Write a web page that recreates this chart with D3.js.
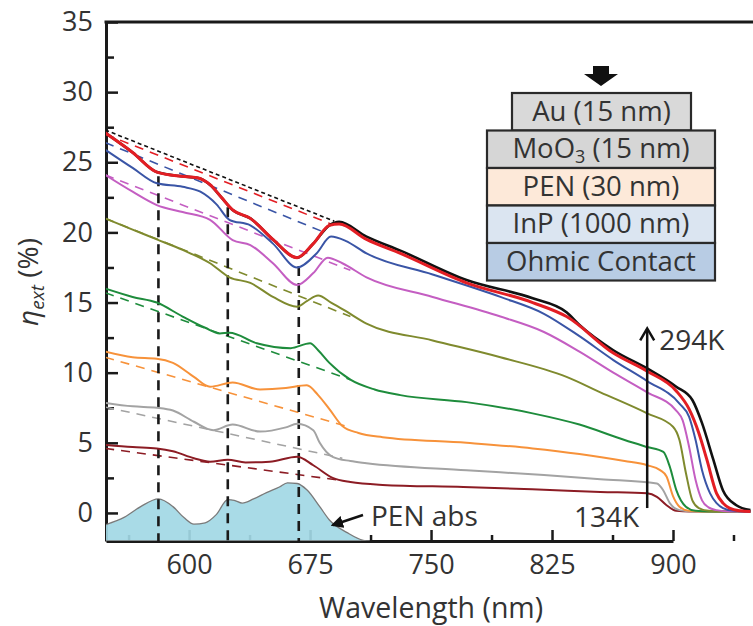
<!DOCTYPE html>
<html lang="en">
<head>
  <meta charset="UTF-8">
  <title>EQE vs wavelength</title>
  <style>
    body{margin:0; background:#fff;}
    svg{display:block; font-family:"Open Sans", sans-serif;}
  </style>
</head>
<body>
<div id="chart"></div>
<script src="https://d3js.org/d3.v7.min.js"></script>
<script>
// DATA (wavelength nm, eta_ext %)
const xTicks = [600, 675, 750, 825, 900];
const xMinor = [562.5, 637.5, 712.5, 787.5, 862.5, 937.5];
const yTicks = [0, 5, 10, 15, 20, 25, 30, 35];
const yMinor = [2.5, 7.5, 12.5, 17.5, 22.5, 27.5, 32.5];

// PEN absorption peaks marked by vertical dashed lines [wl, top]
const peakLines = [[581, 24.0], [624, 21.8], [668, 17.6]];

const penAbs = [[548,-0.85],[560,-0.3],[570,0.45],[581,1.0],[590,0.45],[597,-0.35],[603,-0.8],[610,-0.7],
  [617,-0.1],[624,0.95],[628,0.9],[633,0.7],[640,1.0],[648,1.45],[656,1.85],[661,2.15],[667,2.1],[673,1.65],
  [681,0.45],[687,-0.5],[698,-1.4],[708,-1.95],[712,-2.0]];

const k134 = [[548,4.85],[565,4.7],[580,4.6],[590,4.4],[603,3.9],[613,3.65],[624,3.8],[635,3.6],[650,3.65],
  [667,4.0],[677,3.4],[689,2.5],[700,2.2],[720,2.0],[770,1.85],[820,1.65],[855,1.5],[884,1.4],[890,1.15],
  [896,0.55],[902,0.15],[910,0.1],[948,0.1]];
const k154 = [[548,7.85],[565,7.6],[580,7.5],[590,7.3],[603,6.5],[615,5.9],[627,6.3],[644,5.8],[660,6.1],
  [667,6.35],[677,5.9],[681,5.0],[689,4.0],[700,3.7],[710,3.55],[772,3.05],[820,2.7],[855,2.4],[890,2.1],
  [894,1.6],[898,0.7],[904,0.2],[912,0.1],[948,0.1]];
const k174 = [[548,11.5],[565,11.1],[580,11.0],[590,10.7],[603,9.7],[613,9.0],[627,9.3],[644,8.8],[660,8.9],
  [673,9.1],[680,8.4],[687,7.4],[695,6.2],[705,5.7],[720,5.4],[772,5.0],[813,4.6],[842,4.2],[870,3.7],
  [884,3.4],[892,3.05],[896,2.6],[900,1.2],[904,0.45],[910,0.15],[918,0.1],[948,0.1]];
const k194 = [[548,16.0],[565,15.4],[580,15.0],[596,14.0],[610,13.2],[619,12.8],[625,12.85],[642,12.1],
  [663,11.75],[675,12.1],[680,11.6],[687,10.7],[700,9.5],[715,8.8],[731,8.4],[772,7.9],[813,7.1],[842,6.3],
  [870,5.2],[884,4.7],[894,4.35],[898,3.3],[902,1.65],[908,0.45],[914,0.15],[922,0.1],[948,0.1]];
const k214 = [[548,21.0],[565,20.2],[580,19.5],[596,18.75],[613,17.8],[625,16.8],[638,16.4],[652,15.4],
  [667,14.7],[673,15.1],[680,15.5],[688,15.0],[697,14.4],[710,13.5],[751,12.3],[793,11.1],[834,9.7],
  [855,8.6],[884,7.1],[900,6.15],[904,5.2],[908,2.85],[912,0.9],[916,0.35],[922,0.15],[930,0.1],[948,0.1]];
const k234 = [[548,24.1],[565,22.9],[580,21.95],[596,21.45],[613,20.9],[627,19.45],[638,19.1],[652,17.8],
  [667,16.25],[677,17.1],[686,18.2],[695,17.8],[710,16.8],[751,15.4],[793,14.0],[820,12.9],[842,11.5],
  [863,10.0],[884,8.6],[902,7.3],[906,6.6],[910,4.7],[914,2.35],[918,0.9],[922,0.4],[927,0.2],[935,0.1],[948,0.1]];
const k254 = [[548,25.9],[565,24.6],[580,23.5],[596,23.25],[607,22.9],[617,22.0],[625,20.9],[638,20.5],
  [652,19.2],[667,17.5],[679,18.5],[688,19.7],[697,19.4],[710,18.5],[751,17.0],[793,15.4],[820,14.2],
  [842,12.6],[863,10.9],[884,9.4],[904,7.8],[910,6.85],[914,5.2],[918,3.05],[923,1.4],[927,0.7],[931,0.35],
  [938,0.15],[948,0.1]];
const k274 = [[548,27.1],[565,25.7],[580,24.3],[595,24.0],[605,23.9],[613,23.4],[620,22.5],[627,21.6],
  [638,21.0],[652,19.5],[667,18.2],[677,19.2],[687,20.5],[693,20.6],[710,19.5],[731,18.5],[772,16.4],
  [813,15.0],[834,14.0],[863,11.4],[884,10.1],[902,8.7],[910,7.4],[916,5.7],[921,3.8],[927,1.4],[931,0.7],
  [935,0.35],[942,0.15],[948,0.1]];
const k294 = [[548,27.1],[565,25.7],[580,24.3],[595,24.0],[605,23.9],[613,23.4],[620,22.5],[627,21.6],
  [638,21.0],[652,19.5],[667,18.2],[677,19.2],[687,20.5],[693,20.75],[710,19.7],[731,18.7],[772,16.6],
  [813,15.3],[834,14.3],[842,13.4],[863,11.6],[884,10.3],[902,9.0],[912,8.05],[918,6.4],[925,3.8],
  [931,1.6],[939,0.57],[948,0.2]];

// straight reference lines (dashed), [start, end]
const b134 = [[548,4.6],[692,2.35]];
const b154 = [[548,7.55],[695,3.9]];
const b174 = [[548,11.1],[700,6.1]];
const b194 = [[548,15.7],[700,9.5]];
const b214 = [[548,21.0],[700,14.0]];
const b234 = [[548,24.1],[700,17.3]];
const b254 = [[548,26.4],[684,20.0]];
const b274 = [[548,27.0],[688,20.6]];
const b294 = [[548,27.3],[690,20.8]];

const layerNames = ["Au (15 nm)", "MoO3 (15 nm)", "PEN (30 nm)", "InP (1000 nm)", "Ohmic Contact"];
const layerFills = ["#d9d9d9", "#d6d6d6", "#fde9d9", "#dbe5f1", "#b8cce4"];

// SETTINGS
const width = 753, height = 626;
const textCol = "#333";
const series = [
  {pts: k134, base: b134, color: "#8c1c24", w: 2},
  {pts: k154, base: b154, color: "#a3a3a3", w: 2},
  {pts: k174, base: b174, color: "#f7923a", w: 2},
  {pts: k194, base: b194, color: "#1e8c3c", w: 2},
  {pts: k214, base: b214, color: "#7f8a2e", w: 2},
  {pts: k234, base: b234, color: "#c45ec2", w: 2},
  {pts: k254, base: b254, color: "#3a55a6", w: 2},
  {pts: k294, base: b294, color: "#111111", w: 2.6, dash: "4,3"},
  {pts: k274, base: b274, color: "#e31e24", w: 3}
];

const x = d3.scaleLinear().domain([548.5, 900]).range([106, 673]);
const y = d3.scaleLinear().domain([-2, 35]).range([541, 22]);

const svg = d3.select("#chart").append("svg")
  .attr("width", width)
  .attr("height", height);

svg.append("defs").append("clipPath").attr("id", "plot")
  .append("rect").attr("x", 106).attr("y", 22).attr("width", width - 106).attr("height", 519);

// AXES
svg.append("g").attr("transform", `translate(${x(548.5)},0)`)
  .call(d3.axisLeft(y).tickValues(yTicks).tickSize(-12).tickSizeOuter(0).tickPadding(13));
svg.append("g").attr("transform", `translate(${x(548.5)},0)`)
  .call(d3.axisLeft(y).tickValues(yMinor).tickSize(-8).tickFormat(""))
  .select(".domain").remove();

svg.append("g").attr("transform", `translate(0,${y(-2)})`)
  .call(d3.axisBottom(x).tickValues(xTicks).tickSize(-11).tickSizeOuter(0).tickPadding(14));
svg.append("g").attr("transform", `translate(0,${y(-2)})`)
  .call(d3.axisBottom(x).tickValues(xMinor).tickSize(-6).tickFormat(""))
  .select(".domain").remove();

svg.selectAll(".tick line").attr("stroke", "#1a1a1a").attr("stroke-width", 2.5);
svg.selectAll(".domain").attr("stroke", "#1a1a1a").attr("stroke-width", 3);
svg.selectAll(".tick text").attr("fill", textCol).style("font-size", "27px")
  .style("font-family", '"Open Sans", sans-serif');

// top frame
svg.append("line")
  .attr("x1", x(548.5) - 1.5).attr("x2", width)
  .attr("y1", y(35)).attr("y2", y(35))
  .attr("stroke", "#1a1a1a").attr("stroke-width", 3);

const plot = svg.append("g").attr("clip-path", "url(#plot)");

// PEN ABSORPTION
plot.append("path")
  .datum(penAbs)
  .attr("d", d3.area().x(d => x(d[0])).y0(y(-2)).y1(d => y(d[1])).curve(d3.curveMonotoneX))
  .attr("fill", "#a2d8e5")
  .attr("fill-opacity", 0.92)
  .attr("stroke", "#7a7a7a")
  .attr("stroke-width", 1.3);

const line = d3.line().x(d => x(d[0])).y(d => y(d[1])).curve(d3.curveMonotoneX);

// DASHED REFERENCE LINES
plot.selectAll(".base")
  .data(series)
  .join("path")
  .attr("class", "base")
  .attr("d", d => line(d.base))
  .attr("fill", "none")
  .attr("stroke", d => d.color)
  .attr("stroke-width", 1.6)
  .attr("stroke-dasharray", d => d.dash || "9,7");

// VERTICAL PEAK LINES
plot.selectAll(".peak")
  .data(peakLines)
  .join("line")
  .attr("class", "peak")
  .attr("x1", d => x(d[0])).attr("x2", d => x(d[0]))
  .attr("y1", d => y(d[1])).attr("y2", y(-2))
  .attr("stroke", "#1a1a1a")
  .attr("stroke-width", 2.6)
  .attr("stroke-dasharray", "10,7");

// CURVES
plot.selectAll(".curve")
  .data(series)
  .join("path")
  .attr("class", "curve")
  .attr("d", d => line(d.pts))
  .attr("fill", "none")
  .attr("stroke", d => d.color)
  .attr("stroke-width", d => d.w)
  .attr("stroke-linejoin", "round");

// TEMPERATURE ARROW
const arrowWl = 884;
svg.append("line")
  .attr("x1", x(arrowWl)).attr("x2", x(arrowWl))
  .attr("y1", y(0.35)).attr("y2", y(13.1))
  .attr("stroke", "#111").attr("stroke-width", 2.5);
svg.append("path")
  .attr("d", `M${x(arrowWl) - 7},${y(12.3)} L${x(arrowWl)},${y(13.15)} L${x(arrowWl) + 7},${y(12.3)}`)
  .attr("fill", "none").attr("stroke", "#111").attr("stroke-width", 2.5);

svg.append("text").attr("x", x(arrowWl) + 12).attr("y", 350)
  .attr("fill", textCol).style("font-size", "28px").text("294K");
svg.append("text").attr("x", x(arrowWl) - 8).attr("y", 527)
  .attr("text-anchor", "end")
  .attr("fill", textCol).style("font-size", "28px").text("134K");

// PEN ABS LABEL
svg.append("defs").append("marker")
  .attr("id", "head").attr("viewBox", "0 0 10 10")
  .attr("refX", 8).attr("refY", 5)
  .attr("markerWidth", 5).attr("markerHeight", 5)
  .attr("orient", "auto")
  .append("path").attr("d", "M0,0 L10,5 L0,10 Z").attr("fill", "#111");
svg.append("line")
  .attr("x1", 363).attr("y1", 515).attr("x2", 333).attr("y2", 525)
  .attr("stroke", "#111").attr("stroke-width", 2.5)
  .attr("marker-end", "url(#head)");
svg.append("text").attr("x", 371).attr("y", 526)
  .attr("fill", textCol).style("font-size", "28px").text("PEN abs");

// AXIS TITLES
svg.append("text")
  .attr("x", x(750)).attr("y", 618)
  .attr("text-anchor", "middle")
  .attr("fill", textCol).style("font-size", "28.5px")
  .text("Wavelength (nm)");

const yLab = svg.append("text")
  .attr("transform", "translate(38,282) rotate(-90)")
  .attr("text-anchor", "middle")
  .attr("fill", textCol).style("font-size", "28px");
yLab.append("tspan").style("font-style", "italic").text("η");
yLab.append("tspan").style("font-style", "italic").style("font-size", "19px").attr("dy", 6).text("ext");
yLab.append("tspan").attr("dy", -6).text(" (%)");

// LAYER STACK
const stack = svg.append("g");
const boxTop = 93, boxH = 37.5;
stack.append("path")
  .attr("d", "M593,66 h16 v8 h9 l-17,12 l-17,-12 h9 z")
  .attr("fill", "#111");
layerNames.forEach((name, i) => {
  const bx = i === 0 ? 512 : 487;
  const bw = i === 0 ? 179 : 228;
  const by = boxTop + i * boxH;
  stack.append("rect")
    .attr("x", bx).attr("y", by).attr("width", bw).attr("height", boxH)
    .attr("fill", layerFills[i]).attr("stroke", "#2a2a2a").attr("stroke-width", 2.2);
  const t = stack.append("text")
    .attr("x", bx + bw / 2).attr("y", by + boxH / 2 + 9)
    .attr("text-anchor", "middle")
    .attr("fill", textCol).style("font-size", "27.5px");
  if (name.startsWith("MoO3")) {
    t.append("tspan").text("MoO");
    t.append("tspan").attr("dy", 5).style("font-size", "18px").text("3");
    t.append("tspan").attr("dy", -5).text(" (15 nm)");
  } else {
    t.text(name);
  }
});
</script>
</body>
</html>
